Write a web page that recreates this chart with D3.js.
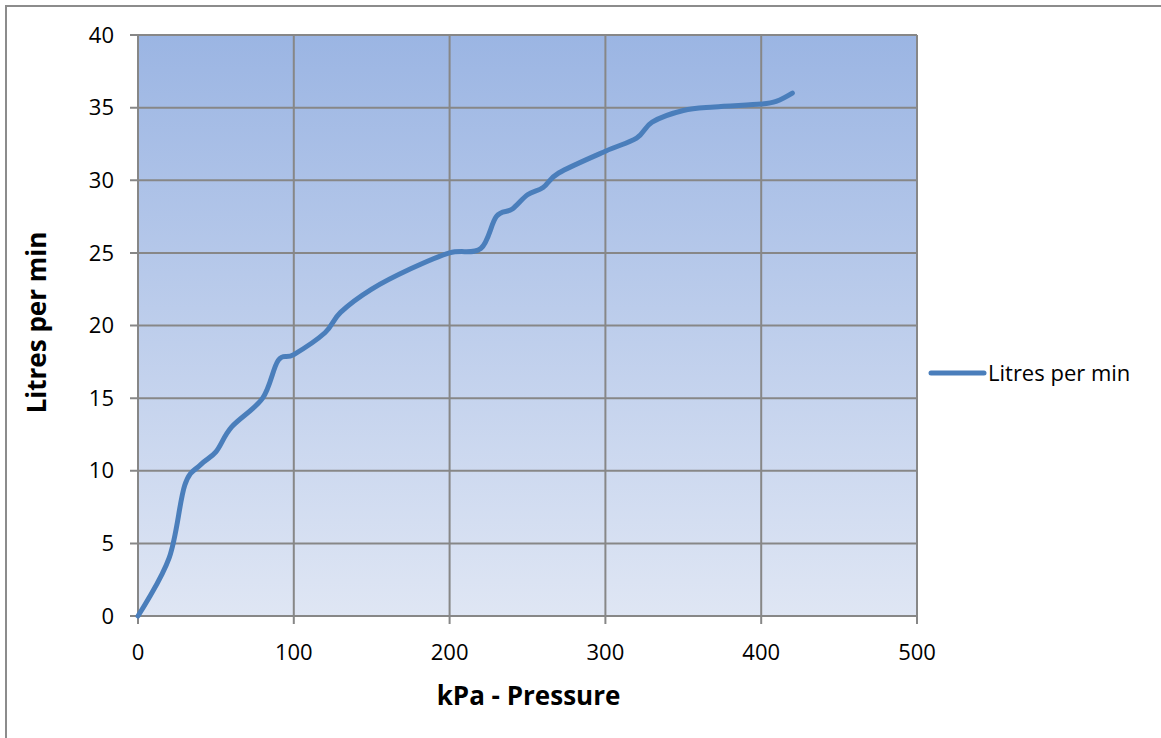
<html lang="en">
<head>
<meta charset="UTF-8">
<title>Litres per min</title>
<script src="https://d3js.org/d3.v7.min.js"></script>
<style>
  body { margin: 0; background: #fff; }
  text { font-family: "Open Sans", "Liberation Sans", sans-serif; fill: #000; }
</style>
</head>
<body>
<script>
// readings
const pressureKpa = [0, 20, 30, 40, 50, 60, 80, 90, 100, 120, 130, 150, 175, 200, 220, 230, 240, 250, 260, 270, 300, 320, 330, 350, 370, 400, 410, 420]
const litresPerMin = [0, 4, 9.0, 10.4, 11.3, 13, 15, 17.6, 18, 19.5, 20.9, 22.5, 23.9, 25, 25.3, 27.5, 28, 29, 29.5, 30.5, 32, 32.9, 34, 34.8, 35.05, 35.25, 35.45, 36]
const xTicks = [0, 100, 200, 300, 400, 500]
const yTicks = [0, 5, 10, 15, 20, 25, 30, 35, 40]
const seriesName = "Litres per min"

var width = 1161
var height = 738
var plot = {left: 138, top: 35, right: 917, bottom: 616}

var svg = d3.select('body').append('svg')
  .attr('width', width)
  .attr('height', height)

// outer frame
svg.append('rect')
  .attr('x', 6).attr('y', 6)
  .attr('width', width + 10).attr('height', height + 10)
  .attr('fill', 'none')
  .attr('stroke', '#8c8c8c')
  .attr('stroke-width', 2)

var grad = svg.append('defs').append('linearGradient')
  .attr('id', 'bg').attr('x1', 0).attr('y1', 0).attr('x2', 0).attr('y2', 1)
grad.append('stop').attr('offset', '0%').attr('stop-color', '#9bb5e3')
grad.append('stop').attr('offset', '100%').attr('stop-color', '#dfe6f4')

var x = d3.scaleLinear().domain([0, 500]).range([plot.left, plot.right])
var y = d3.scaleLinear().domain([0, 40]).range([plot.bottom, plot.top])

svg.append('rect')
  .attr('x', plot.left).attr('y', plot.top)
  .attr('width', plot.right - plot.left).attr('height', plot.bottom - plot.top)
  .attr('fill', 'url(#bg)')

// grid
svg.append('g').selectAll('line').data(yTicks).enter().append('line')
  .attr('x1', plot.left - 8).attr('x2', plot.right)
  .attr('y1', d => y(d)).attr('y2', d => y(d))
  .attr('stroke', '#878787').attr('stroke-width', 2)
svg.append('g').selectAll('line').data(xTicks).enter().append('line')
  .attr('y1', plot.top).attr('y2', plot.bottom + 8)
  .attr('x1', d => x(d)).attr('x2', d => x(d))
  .attr('stroke', '#878787').attr('stroke-width', 2)

// tick labels
svg.append('g').selectAll('text').data(yTicks).enter().append('text')
  .attr('x', plot.left - 24).attr('y', d => y(d))
  .attr('dy', '0.35em')
  .attr('text-anchor', 'end')
  .attr('font-size', 22)
  .text(d => d)
svg.append('g').selectAll('text').data(xTicks).enter().append('text')
  .attr('x', d => x(d)).attr('y', plot.bottom + 44)
  .attr('text-anchor', 'middle')
  .attr('font-size', 22)
  .text(d => d)

// axis titles
svg.append('text')
  .attr('x', (plot.left + plot.right) / 2 + 1).attr('y', 705)
  .attr('text-anchor', 'middle')
  .attr('font-size', 26).attr('font-weight', 'bold')
  .text('kPa - Pressure')
svg.append('text')
  .attr('transform', `translate(46,${(plot.top + plot.bottom) / 2 - 3}) rotate(-90)`)
  .attr('text-anchor', 'middle')
  .attr('font-size', 26).attr('font-weight', 'bold')
  .text(seriesName)

// the series, smoothed like the spreadsheet line
var lineF = d3.line()
  .x((d, i) => x(pressureKpa[i]))
  .y(d => y(d))
  .curve(d3.curveCardinal.tension(0))
svg.append('path')
  .datum(litresPerMin)
  .attr('d', lineF)
  .attr('fill', 'none')
  .attr('stroke', '#4a7ebb')
  .attr('stroke-width', 5)
  .attr('stroke-linejoin', 'round')
  .attr('stroke-linecap', 'round')

// legend
var legend = svg.append('g').attr('transform', 'translate(931,373)')
legend.append('line')
  .attr('x1', 0).attr('x2', 53).attr('y1', 0).attr('y2', 0)
  .attr('stroke', '#4a7ebb').attr('stroke-width', 5).attr('stroke-linecap', 'round')
legend.append('text')
  .attr('x', 57).attr('dy', '0.35em')
  .attr('font-size', 22)
  .text(seriesName)
</script>
</body>
</html>
